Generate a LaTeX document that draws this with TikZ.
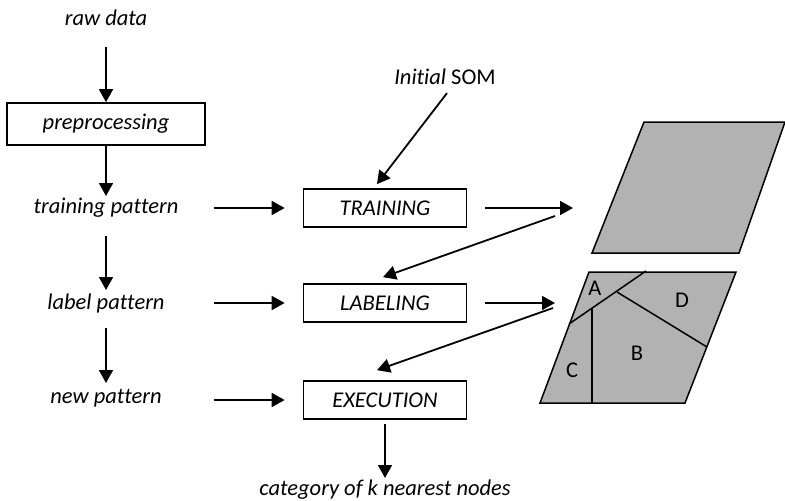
\documentclass[tikz,border=0pt]{standalone}
\usepackage{fontspec}
\setmainfont{Carlito}[Ligatures={NoCommon}]
\usetikzlibrary{arrows.meta}
\tikzset{
  lbl/.style={font=\fontsize{22.5}{27}\selectfont\itshape, inner sep=0pt},
  procbox/.style={draw, line width=1.7pt, font=\fontsize{22.5}{27}\selectfont\itshape,
    minimum width=163pt, minimum height=38pt, inner sep=0pt},
  arr/.style={line width=1.8pt, -{Triangle[length=13pt,width=14pt]}},
  som/.style={draw, line width=1.5pt, fill=black!30, line join=miter},
  region/.style={line width=1.5pt},
  letter/.style={font=\fontsize{22.5}{27}\selectfont, inner sep=0pt}
}
\begin{document}
\begin{tikzpicture}[x=1pt, y=-1pt]
\useasboundingbox (0,0) rectangle (785,501);

% left column
\node[lbl] (raw) at (106,18) {raw data};
\node[procbox, minimum width=198pt, minimum height=42pt] (prep) at (106,124) {preprocessing};
\node[lbl] (tp) at (106,208) {training pattern};
\node[lbl] (lp) at (106,303) {label pattern};
\node[lbl] (np) at (106,398) {new pattern};

% processing stages
\node[procbox] (train) at (385,208) {TRAINING};
\node[procbox] (label) at (385,303) {LABELING};
\node[procbox] (exec) at (385,400) {EXECUTION};
\node[lbl] (cat) at (385,490) {category of k nearest nodes};
\node[lbl, font=\fontsize{22.5}{27}\selectfont] (init) at (445,77) {\textit{Initial} SOM};

% vertical flow
\draw[arr] ([yshift=-29pt]raw.center) -- (prep.north);
\draw[arr] (prep.south) -- ([yshift=12pt]tp.center);
\draw[arr] ([yshift=-28pt]tp.center) -- ([yshift=13pt]lp.center);
\draw[arr] ([yshift=-25pt]lp.center) -- ([yshift=15pt]np.center);
\draw[arr] ([yshift=-4pt]exec.south) -- ([yshift=12pt]cat.center);

% horizontal inputs
\draw[arr] ([xshift=-89pt]train.west) -- ([xshift=-18pt]train.west);
\draw[arr] ([xshift=-89pt]label.west) -- ([xshift=-18pt]label.west);
\draw[arr] ([xshift=-89pt]exec.west) -- ([xshift=-18pt]exec.west);

% initial map into training
\draw[arr] ([shift={(2pt,-8pt)}]init.south) -- ([shift={(-8pt,4pt)}]train.north);

% map outputs and feedback
\coordinate (trainout) at (573,208);
\coordinate (labelout) at (555,303);
\coordinate (mapA) at (555,216);
\coordinate (mapB) at (553,308);
\draw[arr] ([xshift=18pt]train.east) -- (trainout);
\draw[arr] ([xshift=18pt]label.east) -- (labelout);
\draw[arr] (mapA) -- ([shift={(-2pt,6pt)}]label.north);
\draw[arr] (mapB) -- ([shift={(-8pt,10pt)}]exec.north);

% trained map
\draw[som] (644,122) -- (785,122) -- (739,253) -- (592,253) -- cycle;

% labelled map with regions
\draw[som] (589,272) -- (736,272) -- (685,403) -- (540,403) -- cycle;
\coordinate (pl) at (569,324);
\coordinate (pt) at (646,271);
\coordinate (pm) at (617,292);
\coordinate (pr) at (707,347);
\coordinate (vtop) at (592,308);
\coordinate (vbot) at (592,403);
\draw[region] (pl) -- (pt);
\draw[region] (pm) -- (pr);
\draw[region] (vtop) -- (vbot);
\node[letter] (la) at (595,288) {A};
\node[letter] (ld) at (682,300) {D};
\node[letter] (lb) at (637,353) {B};
\node[letter] (lc) at (572,370) {C};
\end{tikzpicture}
\end{document}
